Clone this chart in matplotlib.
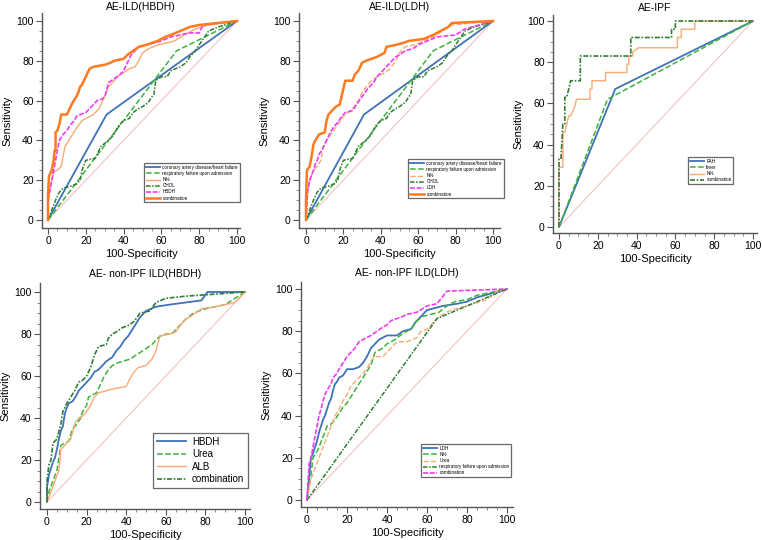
import matplotlib.pyplot as plt
from matplotlib.ticker import MultipleLocator

plt.rcParams['font.family'] = ['Liberation Sans', 'DejaVu Sans']

# ---- data (x = 100-Specificity, y = Sensitivity) ----
# AE-ILD(HBDH)
p1_cad_x = [0, 31, 100]
p1_cad_y = [0, 53, 100]
p1_resp_x = [0, 68, 100]
p1_resp_y = [0, 85, 100]
p1_n_x = [0, 0, 1, 2, 3, 5, 7, 8, 9, 11, 13, 15, 18, 20, 24, 27, 30, 32, 35, 38, 40, 43, 46, 48, 50, 53, 58, 63, 67, 72, 78, 85, 100]
p1_n_y = [0, 8, 15, 20, 24, 25, 27, 32, 37, 40, 43, 46, 50, 51, 53, 56, 62, 67, 70, 73, 74, 76, 77, 80, 84, 86, 88, 89, 90, 93, 96, 98, 100]
chol_x = [0, 2, 4, 6, 8, 12, 15, 17, 18, 20, 25, 26, 28, 32, 35, 37, 40, 43, 45, 48, 50, 53, 55, 56, 57, 60, 63, 65, 70, 73, 75, 78, 80, 85, 90, 100]
chol_y = [0, 5, 10, 14, 16, 17, 18, 20, 25, 30, 31, 33, 37, 40, 43, 47, 50, 51, 54, 56, 57, 59, 62, 63, 70, 72, 72, 75, 77, 79, 82, 85, 88, 95, 97, 100]
p1_hbdh_x = [0, 0, 1, 2, 3, 4, 5, 6, 8, 10, 12, 14, 15, 17, 20, 23, 26, 29, 30, 31, 32, 35, 38, 40, 42, 44, 46, 48, 52, 56, 60, 65, 70, 75, 80, 82, 90, 100]
p1_hbdh_y = [0, 10, 15, 20, 25, 30, 35, 40, 43, 45, 48, 50, 52, 53, 54, 57, 60, 61, 62, 65, 69, 71, 73, 75, 79, 83, 85, 87, 88, 89, 90, 92, 93, 94, 94, 98, 99, 100]
p1_comb_x = [0, 0, 0.5, 1, 2, 3, 3.5, 4, 4, 5, 6, 7, 10, 11, 12, 13, 15, 16, 17, 18, 19, 20, 21, 22, 24, 30, 33, 35, 40, 42, 45, 48, 52, 55, 58, 62, 65, 70, 75, 80, 90, 100]
p1_comb_y = [0, 12, 22, 23, 25, 30, 35, 35, 44, 45, 48, 53, 53, 55, 57, 59, 62, 64, 67, 68, 70, 72, 74, 76, 77, 78, 79, 80, 81, 83, 85, 87, 88, 89, 90, 92, 93, 95, 97, 98, 99, 100]

# AE-ILD(LDH)
p2_n_x = [0, 1, 2, 4, 6, 8, 9, 11, 14, 17, 20, 25, 28, 30, 33, 35, 38, 42, 45, 48, 50, 53, 58, 63, 68, 73, 78, 100]
p2_n_y = [0, 15, 20, 25, 27, 30, 36, 40, 44, 48, 52, 56, 60, 64, 68, 70, 72, 74, 76, 80, 84, 87, 88, 90, 92, 95, 98, 100]
p2_ldh_x = [0, 0.5, 1, 2, 4, 5, 6, 7, 9, 11, 13, 15, 17, 19, 21, 25, 27, 30, 33, 36, 38, 40, 43, 46, 48, 50, 53, 57, 60, 65, 70, 80, 85, 100]
p2_ldh_y = [0, 10, 15, 20, 25, 28, 30, 33, 36, 40, 44, 47, 49, 52, 54, 55, 58, 62, 66, 69, 72, 74, 77, 80, 82, 83, 85, 86, 88, 90, 92, 93, 96, 100]
p2_comb_x = [0, 0, 0.5, 2, 3, 4, 5, 7, 10, 11, 12, 14, 16, 18, 19, 20, 21, 25, 26, 28, 30, 32, 35, 38, 42, 43, 48, 52, 55, 63, 68, 72, 76, 78, 100]
p2_comb_y = [0, 10, 25, 27, 32, 38, 40, 43, 44, 50, 53, 55, 57, 58, 62, 66, 70, 70, 73, 75, 79, 80, 81, 82, 84, 87, 88, 89, 90, 91, 93, 95, 97, 99, 100]

# AE-IPF
p3_pah_x = [0, 29, 100]
p3_pah_y = [0, 67, 100]
p3_fever_x = [0, 25, 100]
p3_fever_y = [0, 62, 100]
p3_n_x = [0, 0, 2, 2, 3, 4, 5, 6, 7, 8, 9, 16, 16, 17, 17, 24, 24, 35, 35, 36, 36, 38, 38, 41, 61, 61, 63, 63, 70, 70, 100]
p3_n_y = [0, 29, 29, 46, 46, 50, 54, 54, 56, 58, 62, 62, 67, 67, 71, 71, 75, 75, 79, 79, 83, 83, 85, 87, 87, 92, 92, 96, 96, 100, 100]
p3_comb_x = [0, 0, 1, 2, 3, 3, 4, 5, 6, 11, 11, 37, 37, 58, 58, 60, 60, 100]
p3_comb_y = [0, 33, 33, 50, 50, 63, 63, 67, 71, 71, 83, 83, 92, 92, 96, 96, 100, 100]

# AE- non-IPF ILD(HBDH)
p4_hbdh_x = [0, 0, 1, 2, 3, 4, 5, 6, 7, 8, 9, 10, 11, 13, 15, 16, 18, 20, 22, 24, 26, 28, 30, 33, 35, 37, 39, 41, 43, 45, 47, 50, 55, 62, 70, 78, 81, 100]
p4_hbdh_y = [0, 7, 13, 16, 19, 21, 25, 30, 34, 36, 42, 45, 47, 48, 51, 53, 55, 57, 59, 62, 63, 65, 67, 69, 72, 74, 77, 79, 82, 85, 88, 91, 93, 94, 95, 96, 100, 100]
p4_urea_x = [0, 1, 3, 5, 7, 9, 11, 13, 15, 17, 18, 20, 21, 25, 27, 29, 31, 33, 35, 38, 42, 45, 50, 53, 57, 60, 63, 65, 68, 70, 74, 77, 80, 90, 100]
p4_urea_y = [0, 5, 10, 15, 27, 28, 29, 35, 37, 40, 43, 46, 50, 52, 56, 60, 63, 65, 66, 67, 68, 70, 73, 75, 79, 80, 80, 82, 85, 87, 90, 91, 92, 94, 100]
p4_alb_x = [0, 2, 4, 6, 7, 10, 12, 14, 16, 18, 20, 22, 24, 26, 30, 34, 40, 42, 44, 46, 50, 53, 55, 57, 62, 65, 68, 70, 72, 78, 85, 95, 100]
p4_alb_y = [0, 5, 10, 15, 25, 28, 30, 37, 40, 41, 43, 46, 50, 52, 53, 54, 55, 59, 62, 64, 65, 68, 72, 79, 80, 81, 85, 87, 88, 92, 93, 95, 100]
p4_comb_x = [0, 0, 1, 2, 3, 5, 7, 8, 10, 12, 14, 16, 18, 20, 22, 24, 26, 30, 31, 33, 35, 38, 41, 44, 47, 52, 55, 60, 70, 100]
p4_comb_y = [0, 10, 18, 20, 28, 30, 37, 43, 47, 50, 53, 57, 58, 60, 64, 70, 74, 75, 78, 80, 81, 83, 84, 86, 90, 91, 95, 97, 98, 100]

# AE- non-IPF ILD(LDH)
p5_ldh_x = [0, 1, 2, 3, 4, 5, 6, 7, 8, 9, 10, 11, 12, 13, 14, 15, 16, 18, 20, 23, 26, 28, 30, 32, 34, 36, 38, 40, 45, 48, 52, 54, 56, 58, 60, 64, 68, 75, 80, 85, 100]
p5_ldh_y = [0, 10, 20, 22, 25, 28, 32, 35, 38, 40, 43, 46, 48, 52, 55, 56, 58, 59, 62, 62, 63, 65, 68, 72, 74, 76, 77, 78, 78, 80, 81, 84, 86, 88, 90, 91, 92, 93, 94, 96, 100]
p5_n_x = [0, 1, 2, 3, 5, 6, 8, 9, 10, 12, 14, 16, 18, 20, 22, 24, 26, 28, 30, 32, 34, 36, 38, 40, 44, 48, 52, 55, 58, 62, 66, 70, 74, 80, 85, 100]
p5_n_y = [0, 8, 12, 20, 23, 25, 30, 32, 35, 36, 38, 41, 44, 46, 49, 52, 55, 58, 61, 64, 70, 71, 72, 74, 76, 79, 81, 85, 87, 88, 89, 92, 94, 95, 97, 100]
p5_urea_x = [0, 1, 2, 4, 6, 8, 10, 12, 14, 16, 18, 20, 22, 24, 26, 28, 30, 32, 34, 38, 40, 43, 45, 50, 55, 57, 60, 63, 65, 68, 72, 80, 90, 95, 100]
p5_urea_y = [0, 5, 10, 15, 20, 25, 30, 35, 40, 43, 47, 50, 54, 56, 58, 60, 62, 66, 68, 68, 70, 73, 75, 75, 77, 80, 81, 84, 86, 88, 90, 92, 95, 99, 100]
p5_resp_x = [0, 65, 100]
p5_resp_y = [0, 86, 100]
p5_comb_x = [0, 1, 2, 3, 4, 5, 6, 7, 8, 9, 10, 12, 13, 15, 16, 18, 20, 22, 24, 26, 28, 30, 32, 35, 38, 40, 42, 45, 48, 50, 55, 60, 65, 70, 100]
p5_comb_y = [0, 17, 20, 25, 30, 35, 40, 43, 47, 50, 52, 55, 58, 60, 62, 65, 68, 70, 72, 75, 76, 77, 78, 80, 82, 83, 85, 86, 87, 88, 89, 92, 93, 99, 100]

BLUE = '#3f72b8'
GREEN = '#3cb43c'
LORANGE = '#f7ab72'
DGREEN = '#2f7d32'
MAGENTA = '#f03cf0'
ORANGE = '#ff7a1f'

fig = plt.figure(figsize=(7.62, 5.4), dpi=100)


def make_axes(box, x0, x100, y0, y100):
    l, r, t, b = box
    ax = fig.add_axes([l / 762, 1 - b / 540, (r - l) / 762, (b - t) / 540])
    sx = (x100 - x0) / 100
    sy = (y0 - y100) / 100
    ax.set_xlim(-(x0 - l) / sx, (r - x0) / sx)
    ax.set_ylim(-(b - y0) / sy, (y0 - t) / sy)
    for s in ['top', 'right']:
        ax.spines[s].set_visible(False)
    for s in ['left', 'bottom']:
        ax.spines[s].set_color('#555555')
        ax.spines[s].set_linewidth(1.0)
    ax.xaxis.set_major_locator(MultipleLocator(20))
    ax.yaxis.set_major_locator(MultipleLocator(20))
    ax.xaxis.set_minor_locator(MultipleLocator(5))
    ax.yaxis.set_minor_locator(MultipleLocator(5))
    ax.tick_params(which='major', length=4, width=0.8, color='#555555', labelsize=7.5, pad=2)
    ax.tick_params(which='minor', length=2, width=0.6, color='#777777')
    ax.set_xlabel('100-Specificity', fontsize=8, labelpad=2)
    ax.set_ylabel('Sensitivity', fontsize=8, labelpad=3)
    ax.plot([0, 100], [0, 100], color='#f2c4c0', lw=0.8, zorder=1)
    return ax


def add_legend(ax, anchor, size):
    leg = ax.legend(loc='upper left', bbox_to_anchor=(anchor[0] / 762, 1 - anchor[1] / 540),
                    bbox_transform=fig.transFigure, fontsize=size, frameon=True,
                    fancybox=False, edgecolor='#444444', borderpad=0.4, labelspacing=0.25,
                    handlelength=3.0, handletextpad=0.6, borderaxespad=0)
    leg.get_frame().set_linewidth(0.9)
    return leg


# Panel 1
ax1 = make_axes((42, 240, 13, 228), 48, 237, 220, 21)
ax1.plot(p1_cad_x, p1_cad_y, color=BLUE, lw=1.3, label='coronary artery disease/heart failure')
ax1.plot(p1_resp_x, p1_resp_y, color=GREEN, lw=1.1, ls='--', label='respiratory failure upon admission')
ax1.plot(p1_n_x, p1_n_y, color=LORANGE, lw=1.0, ls='-', label='N%')
ax1.plot(chol_x, chol_y, color=DGREEN, lw=1.1, ls=(0, (3, 1, 1, 1)), label='CHOL')
ax1.plot(p1_hbdh_x, p1_hbdh_y, color=MAGENTA, lw=1.2, ls=(0, (3, 1)), label='HBDH')
ax1.plot(p1_comb_x, p1_comb_y, color=ORANGE, lw=1.8, label='combination')
ax1.set_title('AE-ILD(HBDH)', fontsize=7.5, pad=2)
add_legend(ax1, (144, 163), 3.3)

# Panel 2
ax2 = make_axes((299, 500, 13, 228), 306, 493, 220, 21)
ax2.plot(p1_cad_x, p1_cad_y, color=BLUE, lw=1.3, label='coronary artery disease/heart failure')
ax2.plot(p1_resp_x, p1_resp_y, color=GREEN, lw=1.1, ls='--', label='respiratory failure upon admission')
ax2.plot(p2_n_x, p2_n_y, color=LORANGE, lw=1.0, ls='--', label='N%')
ax2.plot(chol_x, chol_y, color=DGREEN, lw=1.1, ls=(0, (3, 1, 1, 1)), label='CHOL')
ax2.plot(p2_ldh_x, p2_ldh_y, color=MAGENTA, lw=1.2, ls=(0, (3, 1)), label='LDH')
ax2.plot(p2_comb_x, p2_comb_y, color=ORANGE, lw=1.8, label='combination')
ax2.set_title('AE-ILD(LDH)', fontsize=7.5, pad=2)
add_legend(ax2, (408, 159), 3.3)

# Panel 3
ax3 = make_axes((553, 757, 15, 233), 559, 753, 227, 21)
ax3.plot(p3_pah_x, p3_pah_y, color=BLUE, lw=1.3, label='PAH')
ax3.plot(p3_fever_x, p3_fever_y, color=GREEN, lw=1.1, ls='--', label='fever')
ax3.plot(p3_n_x, p3_n_y, color=LORANGE, lw=1.0, label='N%')
ax3.plot(p3_comb_x, p3_comb_y, color=DGREEN, lw=1.2, ls=(0, (3, 1, 1, 1)), label='combination')
ax3.set_title('AE-IPF', fontsize=7.5, pad=3)
add_legend(ax3, (688, 157), 3.3)

# Panel 4
ax4 = make_axes((40, 250, 283, 509), 47, 245, 502, 292)
ax4.plot(p4_hbdh_x, p4_hbdh_y, color=BLUE, lw=1.3, label='HBDH')
ax4.plot(p4_urea_x, p4_urea_y, color=GREEN, lw=1.1, ls='--', label='Urea')
ax4.plot(p4_alb_x, p4_alb_y, color=LORANGE, lw=1.0, label='ALB')
ax4.plot(p4_comb_x, p4_comb_y, color=DGREEN, lw=1.2, ls=(0, (3, 1, 1, 1)), label='combination')
ax4.set_title('AE- non-IPF ILD(HBDH)', fontsize=7.5, pad=4)
add_legend(ax4, (153, 433), 7)

# Panel 5
ax5 = make_axes((301, 513, 282, 507), 307, 507, 500, 289)
ax5.plot(p5_ldh_x, p5_ldh_y, color=BLUE, lw=1.3, label='LDH')
ax5.plot(p5_n_x, p5_n_y, color=GREEN, lw=1.1, ls='--', label='N%')
ax5.plot(p5_urea_x, p5_urea_y, color=LORANGE, lw=1.0, ls='--', label='Urea')
ax5.plot(p5_resp_x, p5_resp_y, color=DGREEN, lw=1.1, ls=(0, (3, 1, 1, 1)), label='respiratory failure upon admission')
ax5.plot(p5_comb_x, p5_comb_y, color=MAGENTA, lw=1.2, ls=(0, (3, 1)), label='combination')
ax5.set_title('AE- non-IPF ILD(LDH)', fontsize=7.5, pad=4)
add_legend(ax5, (421, 444), 3.3)

fig.savefig('out.png', dpi=100)
